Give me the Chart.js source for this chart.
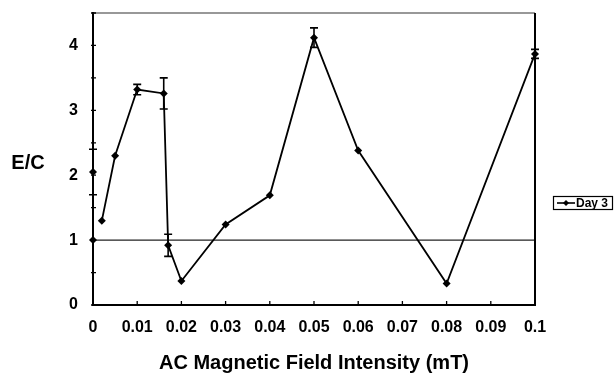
<!DOCTYPE html>
<html>
<head>
<meta charset="utf-8">
<script src="https://cdn.jsdelivr.net/npm/chart.js@4/dist/chart.umd.min.js"></script>
<style>
  html, body { margin: 0; padding: 0; background: #fff; }
  #wrap { position: relative; width: 615px; height: 375px; }
</style>
</head>
<body>
<div id="wrap"><canvas id="c" width="615" height="375"></canvas></div>
<script>
// ---- data ----
const fieldValues = [0, 0, 0.002, 0.005, 0.01, 0.016, 0.017, 0.02, 0.03, 0.04, 0.05, 0.06, 0.08, 0.1];
const day3Values  = [1.0, 2.05, 1.3, 2.3, 3.32, 3.26, 0.92, 0.37, 1.24, 1.69, 4.12, 2.38, 0.33, 3.87];
const day3Errors  = [0, 0.35, 0, 0, 0.08, 0.24, 0.17, 0, 0, 0, 0.15, 0, 0, 0.07];
const controlX = [0, 0.1];
const controlY = [1, 1];
const xTickValues = [0, 0.01, 0.02, 0.03, 0.04, 0.05, 0.06, 0.07, 0.08, 0.09, 0.1];
const yTickLabels = [0, 1, 2, 3, 4];
const seriesName = 'Day 3';
const xTitle = 'AC Magnetic Field Intensity (mT)';
const yTitle = 'E/C';

const FONT = "'Liberation Sans', Arial, Helvetica, sans-serif";

const day3Points = fieldValues.map((x, i) => ({ x: x, y: day3Values[i] }));
const controlPoints = controlX.map((x, i) => ({ x: x, y: controlY[i] }));

const decor = {
  id: 'decor',
  afterDatasetsDraw(chart) {
    const ctx = chart.ctx, xs = chart.scales.x, ys = chart.scales.y;
    ctx.save();
    ctx.strokeStyle = '#000';
    ctx.lineWidth = 1.6;
    day3Errors.forEach((e, i) => {
      if (!e) return;
      const px = xs.getPixelForValue(fieldValues[i]);
      const pt = ys.getPixelForValue(day3Values[i] + e);
      const pb = ys.getPixelForValue(day3Values[i] - e);
      ctx.beginPath();
      ctx.moveTo(px, pt); ctx.lineTo(px, pb);
      ctx.moveTo(px - 4, pt); ctx.lineTo(px + 4, pt);
      ctx.moveTo(px - 4, pb); ctx.lineTo(px + 4, pb);
      ctx.stroke();
    });
    ctx.restore();
  },
  afterDraw(chart) {
    const ctx = chart.ctx, a = chart.chartArea, xs = chart.scales.x, ys = chart.scales.y;
    ctx.save();
    // frame (top and right)
    ctx.strokeStyle = '#333';
    ctx.lineWidth = 1.2;
    ctx.beginPath();
    ctx.moveTo(a.left, a.top); ctx.lineTo(a.right, a.top);
    ctx.stroke();
    ctx.strokeStyle = '#000';
    ctx.lineWidth = 2;
    ctx.beginPath();
    ctx.moveTo(a.right, a.top); ctx.lineTo(a.right, a.bottom);
    ctx.stroke();
    // tick marks
    ctx.lineWidth = 1.3;
    ctx.beginPath();
    ys.ticks.forEach(t => {
      const py = ys.getPixelForValue(t.value);
      ctx.moveTo(a.left - 2, py); ctx.lineTo(a.left + 3, py);
    });
    xs.ticks.forEach(t => {
      const px = xs.getPixelForValue(t.value);
      ctx.moveTo(px, a.bottom + 1); ctx.lineTo(px, a.bottom - 4);
    });
    ctx.stroke();
    // y title (horizontal)
    ctx.fillStyle = '#000';
    ctx.font = 'bold 20px ' + FONT;
    ctx.textAlign = 'center';
    ctx.textBaseline = 'middle';
    ctx.fillText(yTitle, 28, 163);
    // legend
    const lx = 553, ly = 196, lw = 59, lh = 13;
    ctx.lineWidth = 1.2;
    ctx.strokeRect(lx + 0.5, ly + 0.5, lw, lh);
    const cy = ly + lh / 2 + 0.5;
    ctx.lineWidth = 1.6;
    ctx.beginPath();
    ctx.moveTo(lx + 4, cy); ctx.lineTo(lx + 22, cy);
    ctx.stroke();
    ctx.beginPath();
    ctx.moveTo(lx + 13, cy - 3); ctx.lineTo(lx + 16, cy); ctx.lineTo(lx + 13, cy + 3); ctx.lineTo(lx + 10, cy);
    ctx.closePath(); ctx.fill();
    ctx.font = 'bold 12px ' + FONT;
    ctx.textAlign = 'left';
    ctx.fillText(chart.data.datasets[0].label, lx + 23, cy + 0.5);
    ctx.restore();
  }
};

new Chart(document.getElementById('c'), {
  type: 'line',
  data: {
    datasets: [
      {
        label: seriesName,
        data: day3Points,
        borderColor: '#000',
        backgroundColor: '#000',
        borderWidth: 1.8,
        pointStyle: 'rectRot',
        pointRadius: 4,
        pointBorderWidth: 0,
        tension: 0,
        clip: false,
        segment: {
          borderColor: c => (c.p0DataIndex === 1 ? 'rgba(0,0,0,0)' : '#000')
        }
      },
      {
        label: 'control',
        data: controlPoints,
        borderColor: '#222',
        borderWidth: 1.3,
        pointRadius: 0,
        tension: 0
      }
    ]
  },
  options: {
    responsive: false,
    animation: false,
    devicePixelRatio: 1,
    layout: { padding: { left: 0, right: 80, top: 13, bottom: 0 } },
    plugins: { legend: { display: false }, tooltip: { enabled: false } },
    scales: {
      x: {
        type: 'linear',
        min: 0, max: 0.1,
        afterBuildTicks: s => { s.ticks = xTickValues.map(v => ({ value: v })); },
        afterFit: s => { s.height = 70; s.paddingLeft = 0; s.paddingRight = 0; },
        ticks: {
          color: '#000',
          font: { family: FONT, size: 16, weight: 'bold' },
          padding: 13,
          maxRotation: 0,
          autoSkip: false,
          callback: v => String(Math.round(v * 100) / 100)
        },
        grid: { drawOnChartArea: false, drawTicks: false },
        border: { color: '#000', width: 2 },
        title: {
          display: true,
          text: xTitle,
          color: '#000',
          font: { family: FONT, size: 20, weight: 'bold' },
          padding: { top: 0, bottom: 0 }
        }
      },
      y: {
        min: 0, max: 4.5,
        afterFit: s => { s.width = 93; s.paddingTop = 0; s.paddingBottom = 0; },
        ticks: {
          stepSize: 0.5,
          color: '#000',
          font: { family: FONT, size: 16, weight: 'bold' },
          padding: 15,
          callback: v => (yTickLabels.includes(v) ? String(v) : '')
        },
        grid: { drawOnChartArea: false, drawTicks: false },
        border: { color: '#000', width: 2 }
      }
    }
  },
  plugins: [decor]
});
</script>
</body>
</html>
